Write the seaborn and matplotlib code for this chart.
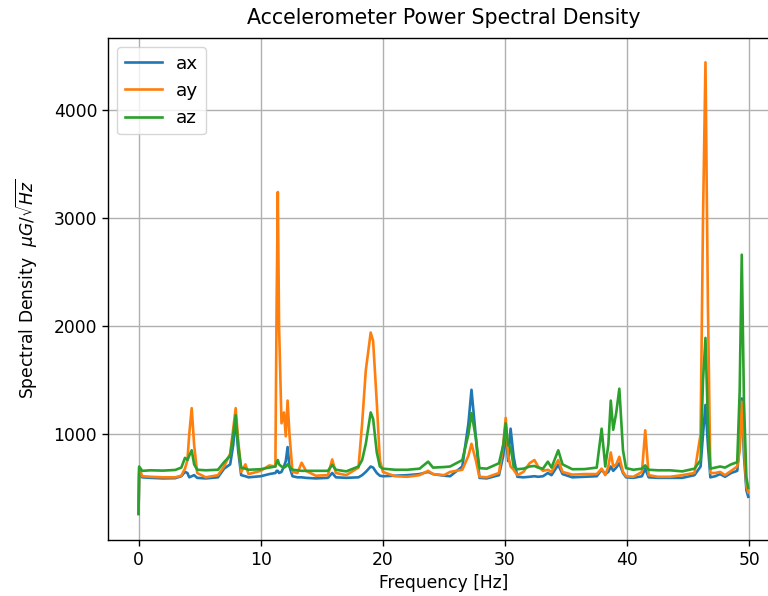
import numpy as np
import pandas as pd
import matplotlib
matplotlib.use("Agg")
import matplotlib.pyplot as plt
import seaborn as sns

freq = [0.0, 0.05, 0.3, 1.0, 2.0, 3.0, 3.5, 3.8, 4.0, 4.15, 4.35, 4.55, 4.8, 5.5, 6.5,
        7.0, 7.5, 7.75, 7.95, 8.15, 8.4, 8.75, 9.0, 10.0, 10.7, 11.2, 11.3, 11.4, 11.5,
        11.7, 11.9, 12.05, 12.2, 12.35, 12.6, 13.0, 13.35, 13.7, 14.5, 15.5, 15.85, 16.15,
        17.0, 18.0, 18.3, 18.6, 19.0, 19.2, 19.5, 19.75, 20.0, 21.0, 22.0, 23.0, 23.7,
        24.1, 25.0, 25.5, 26.5, 27.0, 27.25, 27.6, 27.9, 28.5, 29.5, 29.85, 30.05, 30.25,
        30.45, 30.7, 31.0, 31.5, 32.0, 32.4, 32.7, 33.1, 33.5, 33.8, 34.35, 34.7, 35.5,
        36.5, 37.5, 37.9, 38.2, 38.45, 38.65, 38.85, 39.1, 39.35, 39.65, 39.9, 40.5, 41.2,
        41.47, 41.75, 42.5, 43.5, 44.5, 45.5, 46.0, 46.2, 46.4, 46.6, 46.8, 47.2, 47.6,
        48.0, 48.5, 49.0, 49.2, 49.37, 49.55, 49.75, 49.9]

ax_vals = [260, 640, 600, 595, 590, 592, 610, 650, 640, 600, 610, 620, 595, 590, 600,
           680, 720, 900, 1150, 850, 620, 610, 600, 610, 630, 640, 660, 660, 640,
           650, 700, 750, 880, 700, 610, 600, 600, 595, 590, 595, 640, 600,
           595, 600, 620, 650, 700, 690, 640, 615, 610, 615, 620, 630, 650,
           630, 615, 610, 700, 1100, 1410, 980, 595, 590, 620, 800, 1010, 750,
           1050, 790, 605, 600, 605, 610, 605, 610, 640, 620, 715, 630, 600,
           605, 610, 670, 630, 650, 700, 660, 690, 730, 640, 600, 595, 610,
           680, 600, 595, 595, 595, 620, 700, 1000, 1270, 900, 600, 610, 630,
           605, 640, 660, 900, 1330, 800, 480, 420]

ay_vals = [270, 690, 610, 605, 600, 600, 615, 680, 760, 1000, 1240, 900, 640, 600, 620,
           700, 820, 1050, 1240, 950, 650, 720, 630, 660, 710, 700, 2200, 3240, 2000,
           1100, 1200, 980, 1310, 1000, 650, 640, 735, 660, 615, 620, 765, 640,
           620, 690, 1100, 1590, 1940, 1860, 1290, 760, 650, 610, 605, 620, 660,
           630, 620, 650, 670, 800, 910, 760, 605, 600, 640, 900, 1150, 800,
           700, 670, 620, 650, 730, 760, 700, 660, 670, 650, 760, 650, 625,
           630, 630, 680, 620, 700, 830, 700, 720, 790, 650, 610, 605, 650,
           1035, 620, 605, 605, 620, 640, 1000, 3000, 4440, 2200, 640, 640, 650,
           620, 660, 700, 850, 1300, 900, 520, 460]

az_vals = [265, 700, 660, 665, 662, 668, 690, 780, 760, 800, 850, 720, 670, 665, 670,
           740, 800, 1000, 1175, 900, 690, 680, 670, 675, 690, 700, 740, 760, 720,
           700, 690, 700, 720, 700, 670, 665, 660, 660, 660, 660, 715, 670,
           655, 700, 760, 910, 1200, 1140, 830, 700, 680, 670, 670, 680, 745,
           690, 695, 700, 760, 1000, 1195, 970, 685, 680, 730, 900, 1100, 900,
           880, 700, 675, 680, 700, 705, 690, 680, 745, 690, 850, 720, 675,
           676, 690, 1050, 700, 900, 1310, 1040, 1200, 1420, 850, 685, 670, 680,
           710, 670, 665, 665, 655, 680, 760, 1500, 1890, 1100, 680, 690, 700,
           690, 720, 740, 1400, 2660, 1300, 600, 500]

names = ["ax", "ay", "az"]
colors = ["#1f77b4", "#ff7f0e", "#2ca02c"]

df = pd.DataFrame({"freq": freq, "ax": ax_vals, "ay": ay_vals, "az": az_vals})

fig = plt.figure(figsize=(7.68, 5.96), dpi=100)
ax = fig.add_axes([108/768, 1 - 540/596, 672/768, 502/596])

for name, col in zip(names, colors):
    sns.lineplot(data=df, x="freq", y=name, ax=ax, color=col, linewidth=1.9,
                 label=name, estimator=None, sort=False)

ax.set_xlim(-2.5, 52.5)
ax.set_ylim(20, 4665)
ax.set_xticks([0, 10, 20, 30, 40, 50])
ax.set_yticks([1000, 2000, 3000, 4000])
ax.grid(True, color="#b0b0b0", linewidth=1.0)
ax.tick_params(labelsize=12.3, length=4.3, width=1.0)
for s in ax.spines.values():
    s.set_linewidth(1.0)
ax.set_xlabel("Frequency [Hz]", fontsize=12.3)
ax.set_ylabel(r"Spectral Density  $\mu G/\sqrt{Hz}$", fontsize=12.3, labelpad=10)
ax.set_title("Accelerometer Power Spectral Density", fontsize=14.8, pad=10)
ax.legend(loc="upper left", fontsize=13.3)

fig.savefig("out.png", dpi=100)
